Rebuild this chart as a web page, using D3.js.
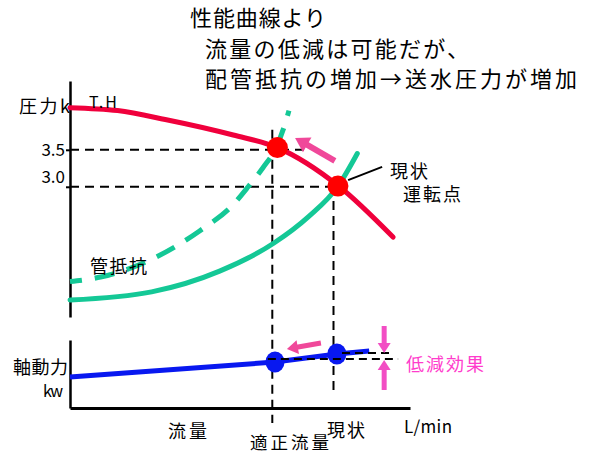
<!DOCTYPE html>
<html>
<head>
<meta charset="utf-8">
<script src="https://cdn.jsdelivr.net/npm/d3@7"></script>
<style>
    body { margin: 0; background: #fff; }
    svg { display: block; font-family: "Noto Sans CJK JP", "Noto Sans", sans-serif; }
</style>
</head>
<body>
<svg id="chart" width="590" height="454"></svg>
<script>
// flow is schematic, 0-100 along the L/min axis
var titleLines = ["性能曲線より", "流量の低減は可能だが、", "配管抵抗の増加→送水圧力が増加"];
var headTicks = [3.5, 3.0];

// pump curve T.H  [flow, pressure]
var headCurve = [[0, 4.07], [14, 4.03], [28, 3.91], [48, 3.70], [61, 3.53], [79, 3.01], [95, 2.32]];
// pipe resistance, now and after throttling  [flow, pressure]
var pipeNow = [[0, 1.47], [24, 1.58], [44, 1.86], [60, 2.24], [70, 2.59], [79, 3.02], [84.5, 3.45]];
var pipeUp = [[0, 1.72], [9, 1.78], [23.5, 2.01], [38, 2.40], [48, 2.76], [52.4, 3.0], [56.8, 3.26], [60.6, 3.53], [62.9, 3.80], [64.4, 4.03]];
var headPoints = [[61, 3.53], [78.8, 3.01]];

// shaft power [flow, kw]
var powerCurve = [[0, 4.56], [60.3, 6.76], [78.5, 7.94], [88, 8.38]];
var powerPoints = [[60.3, 6.76], [78.5, 7.94]];
var effectLevels = [[58.2, 96.5, 7.2], [80, 94, 8.09]];   // [from, to, kw]

var optimalFlow = 59.5;
var currentFlow = 77.5;

var svg = d3.select("#chart");
var x = d3.scaleLinear().domain([0, 100]).range([70, 410]);
var yHead = d3.scaleLinear().domain([1.24, 4.43]).range([317, 81]);
var yPower = d3.scaleLinear().domain([0, 10]).range([408, 340]);

var black = "#000";
var red = "#f0003c";
var green = "#14c896";
var blue = "#0818f0";
var pink = "#f0489a";
var magenta = "#f24ec4";

function label(txt, x0, yc, size, len, color) {
    var t = svg.append("text")
        .attr("x", x0)
        .attr("y", yc)
        .attr("dominant-baseline", "central")
        .style("font-size", size + "px")
        .style("fill", color || black)
        .text(txt);
    if (len) t.attr("textLength", len).attr("lengthAdjust", "spacing");
    return t;
}

function arrow(x1, y1, x2, y2, head, width, lw, color) {
    var dx = x2 - x1, dy = y2 - y1, L = Math.hypot(dx, dy);
    var ux = dx / L, uy = dy / L;
    var bx = x2 - ux * head, by = y2 - uy * head;
    svg.append("line")
        .attr("x1", x1).attr("y1", y1).attr("x2", bx + ux).attr("y2", by + uy)
        .attr("stroke", color).attr("stroke-width", lw);
    svg.append("path")
        .attr("d", "M" + x2 + "," + y2 +
            "L" + (bx - uy * width / 2) + "," + (by + ux * width / 2) +
            "L" + (bx + uy * width / 2) + "," + (by - ux * width / 2) + "Z")
        .attr("fill", color);
}

// title
var titleX = [190, 205, 205];
var titleLen = [136, 264, 372];
titleLines.forEach(function (t, i) {
    label(t, titleX[i], 16 + i * 30.5, 22, titleLen[i]);
});

// axes
var headAxis = svg.append("g")
    .attr("transform", "translate(" + x(0) + ",0)")
    .call(d3.axisLeft(yHead).tickValues(headTicks).tickSize(4).tickPadding(1)
        .tickSizeOuter(0).tickFormat(d3.format(".1f")));
headAxis.select(".domain").attr("stroke-width", 2.5);
headAxis.selectAll(".tick line").attr("stroke-width", 2);
headAxis.selectAll(".tick text")
    .style("font-size", "17px")
    .style("font-family", "\"Noto Sans CJK JP\", sans-serif")
    .attr("fill", black)
    .attr("y", function (d) { return d === 3.0 ? -10 : 0; });

var powerAxis = svg.append("g")
    .attr("transform", "translate(" + x(0) + ",0)")
    .call(d3.axisLeft(yPower).ticks(0).tickSizeOuter(0));
powerAxis.select(".domain").attr("stroke-width", 2.5);

var flowAxis = svg.append("g")
    .attr("transform", "translate(0," + yPower(0) + ")")
    .call(d3.axisBottom(x).ticks(0).tickSizeOuter(0));
flowAxis.select(".domain").attr("stroke-width", 3);

// dashed guides
var guides = [
    [x(0), yHead(3.5), x(69.7), yHead(3.5)],
    [x(0), yHead(3.0), x(78.8), yHead(3.0)],
    [x(optimalFlow), yHead(3.77), x(optimalFlow), yPower(-2.2)],
    [x(currentFlow), yHead(3.01), x(currentFlow), yPower(1.9)]
];
svg.selectAll(".guide")
    .data(guides)
    .enter()
    .append("line")
    .attr("class", "guide")
    .attr("x1", function (d) { return d[0]; })
    .attr("y1", function (d) { return d[1]; })
    .attr("x2", function (d) { return d[2]; })
    .attr("y2", function (d) { return d[3]; })
    .attr("stroke", black)
    .attr("stroke-width", 2)
    .attr("stroke-dasharray", "9,6");

// curves
var headLine = d3.line()
    .x(function (d) { return x(d[0]); })
    .y(function (d) { return yHead(d[1]); })
    .curve(d3.curveMonotoneX);

svg.append("path").attr("d", headLine(pipeUp))
    .attr("fill", "none").attr("stroke", green).attr("stroke-width", 5)
    .attr("stroke-dasharray", "20,13").attr("stroke-dashoffset", 8);
svg.append("path").attr("d", headLine(pipeNow))
    .attr("fill", "none").attr("stroke", green).attr("stroke-width", 5)
    .attr("stroke-linecap", "round");
svg.append("path").attr("d", headLine(headCurve))
    .attr("fill", "none").attr("stroke", red).attr("stroke-width", 5)
    .attr("stroke-linecap", "round");

svg.selectAll(".hp")
    .data(headPoints)
    .enter()
    .append("circle")
    .attr("class", "hp")
    .attr("cx", function (d) { return x(d[0]); })
    .attr("cy", function (d) { return yHead(d[1]); })
    .attr("r", 10.5)
    .attr("fill", "#ff0000");

// leader to current point
svg.append("line")
    .attr("x1", x(81.8)).attr("y1", yHead(3.09))
    .attr("x2", x(91.8)).attr("y2", yHead(3.27))
    .attr("stroke", black).attr("stroke-width", 2);

arrow(x(77.9), yHead(3.35), x(66.2), yHead(3.66), 14, 17, 6, pink);

// shaft power
var powerLine = d3.line()
    .x(function (d) { return x(d[0]); })
    .y(function (d) { return yPower(d[1]); });

svg.append("path").attr("d", powerLine(powerCurve))
    .attr("fill", "none").attr("stroke", blue).attr("stroke-width", 5);

svg.selectAll(".pp")
    .data(powerPoints)
    .enter()
    .append("ellipse")
    .attr("class", "pp")
    .attr("cx", function (d) { return x(d[0]); })
    .attr("cy", function (d) { return yPower(d[1]); })
    .attr("rx", 9.5)
    .attr("ry", 10.5)
    .attr("fill", blue);

svg.selectAll(".effect")
    .data(effectLevels)
    .enter()
    .append("line")
    .attr("class", "effect")
    .attr("x1", function (d) { return x(d[0]); })
    .attr("x2", function (d) { return x(d[1]); })
    .attr("y1", function (d) { return yPower(d[2]); })
    .attr("y2", function (d) { return yPower(d[2]); })
    .attr("stroke", black)
    .attr("stroke-width", 2)
    .attr("stroke-dasharray", "8,5");

arrow(x(73.8), yPower(9.56), x(63.8), yPower(8.68), 11, 14, 5, pink);
arrow(x(92.4), yPower(12.06), x(92.4), yPower(8.09), 10, 13, 5, magenta);
arrow(x(92.4), yPower(2.65), x(92.4), yPower(7.06), 10, 13, 5, magenta);

// text labels
label("圧力k", 19, 105, 18, 51);
label("T.H", 89, 101, 16, 28);
label("管抵抗", 90, 265, 18, 57);
label("現状", 390, 170, 18, 38);
label("運転点", 403, 193, 18, 58);
label("軸動力", 13, 366, 18, 55);
label("kw", 43, 390, 16, 20);
label("流量", 168, 430, 18, 39);
label("適正流量", 250, 441, 17.5, 79);
label("現状", 327, 429, 18, 38);
label("L/min", 404, 425, 17, 48);
label("低減効果", 406, 363, 18, 78, "#ff3ccc");
</script>
</body>
</html>
